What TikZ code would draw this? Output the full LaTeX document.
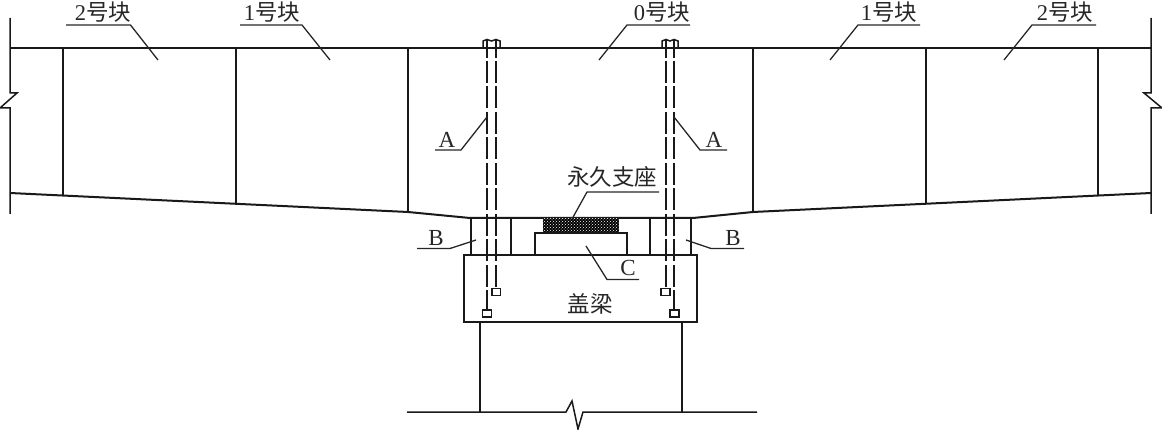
\documentclass[tikz,border=0pt]{standalone}
\usepackage{fontspec}
\setmainfont{Liberation Serif}
\newfontfamily\cjk{Noto Sans CJK SC}
\usetikzlibrary{patterns}
\tikzset{
  heavy/.style={line width=2pt,black!90},
  outline/.style={line width=1.5pt,black!90},
  leader/.style={line width=1.3pt,black!85},
  rod/.style={line width=2.1pt,black!90,dash pattern=on 22pt off 3.5pt},
  rodtop/.style={line width=1.9pt,black!90},
  anchorbox/.style={line width=1.3pt,black!90,fill=white},
  lab/.style={inner sep=0pt,font=\fontsize{23}{23}\selectfont,black!85},
  cjklab/.style={inner sep=0pt,font=\fontsize{22.5}{23}\cjk,black!85}
}
\begin{document}
\begin{tikzpicture}[x=1pt,y=-1pt]
\useasboundingbox (0,0) rectangle (1162,430);
% deck
\draw[heavy] (10,48) -- (1151,48);
\draw[outline] (10,18) -- (10,93) -- (17,93) -- (0,108) -- (10,108) -- (10,214);
\draw[outline] (1151,18) -- (1151,93) -- (1144,93) -- (1162,108) -- (1151,108) -- (1151,214);
\foreach \x/\yb in {63/195,236/203.5,408/212,753/212,926/203.5,1098/195}
  \draw[heavy] (\x,48) -- (\x,\yb);
\draw[heavy] (10,193) -- (408,212) -- (470,218) -- (693,218) -- (753,212) -- (1151,193);
% temporary supports and permanent bearing
\foreach \x in {471,511,650,691}
  \draw[heavy] (\x,218) -- (\x,255);
\fill[black] (543,219) rectangle (619,233);
\fill[pattern=crosshatch dots,pattern color=white] (543,219) rectangle (619,233);
\draw[heavy] (535,255) -- (535,233.5) -- (627,233.5) -- (627,255);
% cap beam and pier
\draw[heavy] (464,255) rectangle (697,322);
\draw[heavy] (480,322) -- (480,412);
\draw[heavy] (682,322) -- (682,412);
\draw[outline] (407,412) -- (566,412) -- (572,401) -- (578,429) -- (583,412) -- (757,412);
% rods
\foreach \x/\ye in {487/310,496/289,666/289,674/310} {
  \draw[rodtop] (\x,39) -- (\x,58);
  \draw[rod] (\x,61) -- (\x,\ye);
}
\draw[outline] (483,48) -- (483,41) -- (487,39.5) -- (491.5,41) -- (496,39.5) -- (500,41) -- (500,48);
\draw[outline] (662,48) -- (662,41) -- (666,39.5) -- (670,41) -- (674,39.5) -- (678,41) -- (678,48);
\draw[anchorbox] (482.5,310) rectangle (491.5,317);
\draw[anchorbox] (492,288.5) rectangle (500.5,295.5);
\draw[anchorbox] (661,288.5) rectangle (670,295.5);
\draw[anchorbox] (670,310) rectangle (679,317);
% leaders
\draw[leader] (66,25) -- (130.5,25) -- (158,60);
\draw[leader] (240,25) -- (302,25) -- (330,60);
\draw[leader] (599,60) -- (627,25) -- (690,25);
\draw[leader] (830,60) -- (858,25) -- (920,25);
\draw[leader] (1004,60) -- (1032,25) -- (1096,25);
\draw[leader] (487,117) -- (461,150) -- (435,150);
\draw[leader] (674,117) -- (700,150) -- (727,150);
\draw[leader] (572,219) -- (587,192) -- (659,192);
\draw[leader] (476,240) -- (450,248.5) -- (417,248.5);
\draw[leader] (686,240) -- (711,248.5) -- (744,248.5);
\draw[leader] (586,246) -- (607,279.5) -- (639,279.5);
% labels
\node[cjklab] (lblL2) at (103,12) {{\fontspec{Liberation Serif}2}号块};
\node[cjklab] (lblL1) at (272,12) {{\fontspec{Liberation Serif}1}号块};
\node[cjklab] (lblC0) at (662,12) {{\fontspec{Liberation Serif}0}号块};
\node[cjklab] (lblR1) at (889,12) {{\fontspec{Liberation Serif}1}号块};
\node[cjklab] (lblR2) at (1065,12) {{\fontspec{Liberation Serif}2}号块};
\node[cjklab] (lblBearing) at (612,177) {永久支座};
\node[cjklab] (lblCap) at (590,304) {盖梁};
\node[lab] (lblAl) at (447,140) {A};
\node[lab] (lblAr) at (714,140) {A};
\node[lab] (lblBl) at (436,238) {B};
\node[lab] (lblBr) at (733,238) {B};
\node[lab] (lblC) at (628,268) {C};
\end{tikzpicture}
\end{document}
